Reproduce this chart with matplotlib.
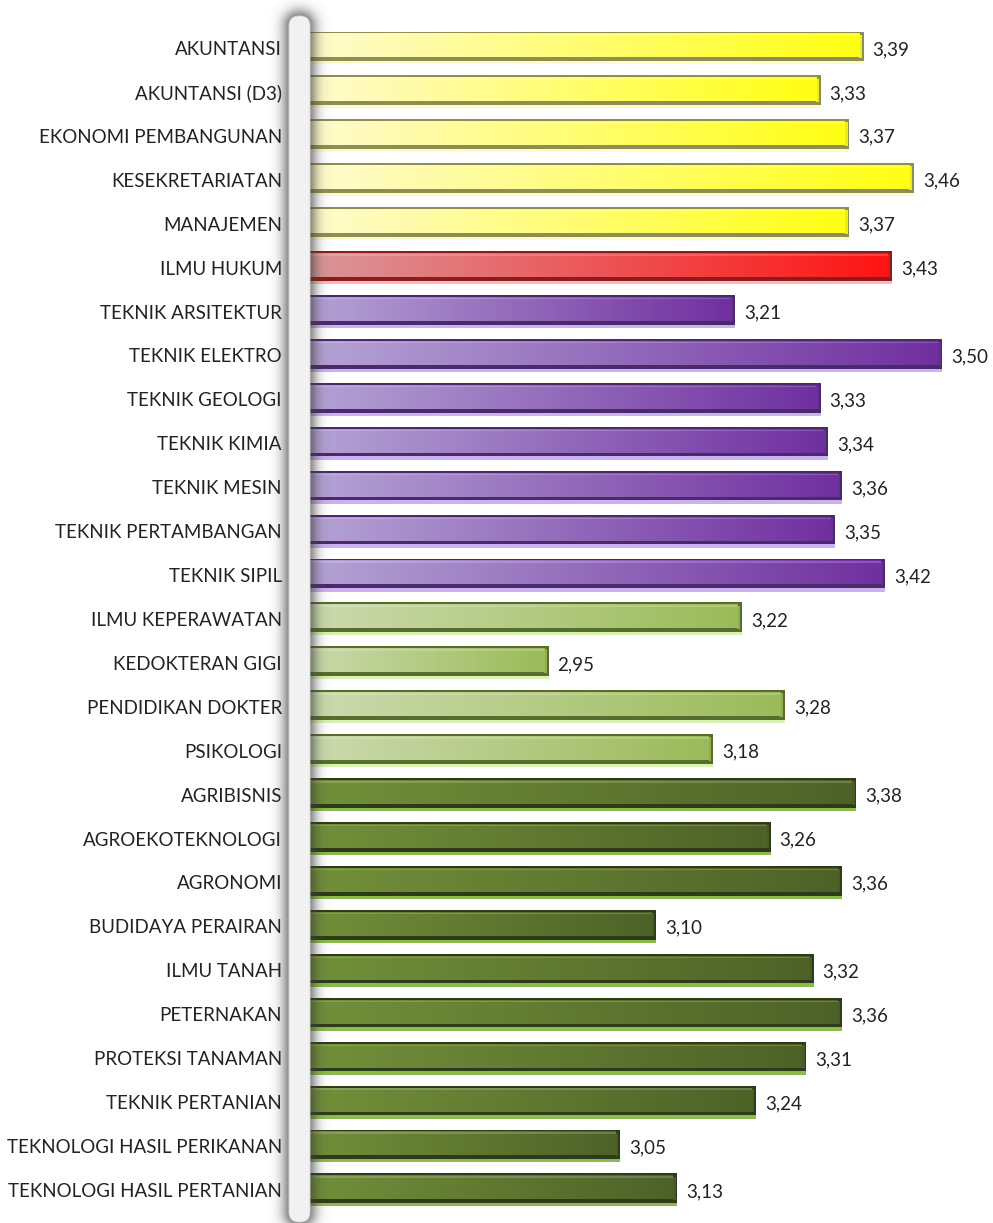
import numpy as np
import matplotlib
matplotlib.use("Agg")
import matplotlib.pyplot as plt
from matplotlib.colors import LinearSegmentedColormap
from matplotlib.patches import Rectangle, FancyBboxPatch
from matplotlib import transforms

plt.rcParams['font.family'] = ['Lato', 'DejaVu Sans']

# data
programs = ["AKUNTANSI", "AKUNTANSI (D3)", "EKONOMI PEMBANGUNAN", "KESEKRETARIATAN",
            "MANAJEMEN", "ILMU HUKUM", "TEKNIK ARSITEKTUR", "TEKNIK ELEKTRO",
            "TEKNIK GEOLOGI", "TEKNIK KIMIA", "TEKNIK MESIN", "TEKNIK PERTAMBANGAN",
            "TEKNIK SIPIL", "ILMU KEPERAWATAN", "KEDOKTERAN GIGI", "PENDIDIKAN DOKTER",
            "PSIKOLOGI", "AGRIBISNIS", "AGROEKOTEKNOLOGI", "AGRONOMI",
            "BUDIDAYA PERAIRAN", "ILMU TANAH", "PETERNAKAN", "PROTEKSI TANAMAN",
            "TEKNIK PERTANIAN", "TEKNOLOGI HASIL PERIKANAN", "TEKNOLOGI HASIL PERTANIAN"]
scores = [3.39, 3.33, 3.37, 3.46, 3.37, 3.43, 3.21, 3.50, 3.33, 3.34, 3.36, 3.35,
          3.42, 3.22, 2.95, 3.28, 3.18, 3.38, 3.26, 3.36, 3.10, 3.32, 3.36, 3.31,
          3.24, 3.05, 3.13]
groups = ["eko"] * 5 + ["hukum"] + ["teknik"] * 7 + ["kes"] * 4 + ["tani"] * 10

# style per group: gradient left, gradient right, dark edge, light strip
styles = {
    "eko":    ("#fffbd2", "#ffff14", "#8e8e52", "#fffcc8"),
    "hukum":  ("#d9999d", "#ff1414", "#8a1c1c", "#ffb8c0"),
    "teknik": ("#b6a6d6", "#7030a0", "#4a2a6a", "#cbb0f2"),
    "kes":    ("#cddbb0", "#9bbb59", "#566d2e", "#d8f2b0"),
    "tani":   ("#73913a", "#4e6228", "#2e3b18", "#8cba4c"),
}

W, H = 993, 1223
fig = plt.figure(figsize=(W / 100, H / 100), dpi=100)

x_axis_px = 298
px_per_unit = 716
xmin = 2.6
row_px = 43.92
first_row_px = 48

ax = fig.add_axes([x_axis_px / W, 0, 1 - x_axis_px / W, 1])
ax.axis("off")

h = 0.75
dx = 4.5 / px_per_unit
label_tr = transforms.offset_copy(ax.transData, fig=fig, x=-16, y=-1.5, units="dots")
value_tr = transforms.offset_copy(ax.transData, fig=fig, x=9, y=-1.5, units="dots")

for i, (name, v, g) in enumerate(zip(programs, scores, groups)):
    c0, c1, edge, light = styles[g]
    t, b = i - h / 2, i + h / 2
    ax.add_patch(Rectangle((xmin, t), v - xmin, h, facecolor=light, edgecolor="none", zorder=2))
    ax.add_patch(Rectangle((xmin, t), v - xmin, h - 0.075, facecolor=edge, edgecolor="none", zorder=3))
    # right bevel highlight
    ax.add_patch(Rectangle((v - dx, t + 0.07), dx * 0.6, h - 0.22, facecolor=c1,
                           edgecolor="none", alpha=0.85, zorder=3))
    cmap = LinearSegmentedColormap.from_list(g, [c0, c1])
    grad = np.linspace(0, 1, 256).reshape(1, -1)
    ax.imshow(grad, cmap=cmap, extent=[xmin, v - dx, b - 0.16, t + 0.065],
              aspect="auto", zorder=4, interpolation="bilinear")
    # thin highlight under top edge
    ax.add_patch(Rectangle((xmin, t + 0.065), v - dx - xmin, 0.035, facecolor="white",
                           edgecolor="none", alpha=0.18, zorder=5))
    ax.text(xmin, i, name, transform=label_tr, ha="right", va="center",
            fontsize=13.5, color="#222222", clip_on=False)
    ax.text(v, i, f"{v:.2f}".replace(".", ","), transform=value_tr, ha="left",
            va="center", fontsize=13.5, color="#222222", clip_on=False)

ax.set_xlim(xmin, xmin + (W - x_axis_px) / px_per_unit)
ax.set_ylim((H - first_row_px) / row_px, -first_row_px / row_px)

# rounded vertical axis bar with soft shadow
ov = fig.add_axes([0, 0, 1, 1], zorder=5)
ov.axis("off")
bx0, bx1, by0, by1, r = 289, 310, 16, 1222, 10
xs = np.arange(255, 345) + 0.5
ys = np.arange(0, H) + 0.5
X, Y = np.meshgrid(xs, ys)
cx = np.clip(X, bx0 + r, bx1 - r)
cy = np.clip(Y, by0 + r, by1 - r)
d = np.hypot(X - cx, Y - cy) - r
d = np.clip(d, 0, None)
alpha = 0.6 * np.exp(-(d / 8.0) ** 1.5)
shadow = np.zeros((len(ys), len(xs), 4))
shadow[..., :3] = 0.25
shadow[..., 3] = alpha
ov.imshow(shadow, extent=[255, 345, H, 0], aspect="auto", interpolation="bilinear")
ov.add_patch(FancyBboxPatch((bx0 + r, by0 + r), (bx1 - bx0) - 2 * r, (by1 - by0) - 2 * r,
                            boxstyle=f"round,pad={r}", facecolor="#f1f1f1",
                            edgecolor="#d8d8d8", linewidth=0.6))
ov.set_xlim(0, W)
ov.set_ylim(H, 0)

fig.savefig("out.png", dpi=100, facecolor="white")
